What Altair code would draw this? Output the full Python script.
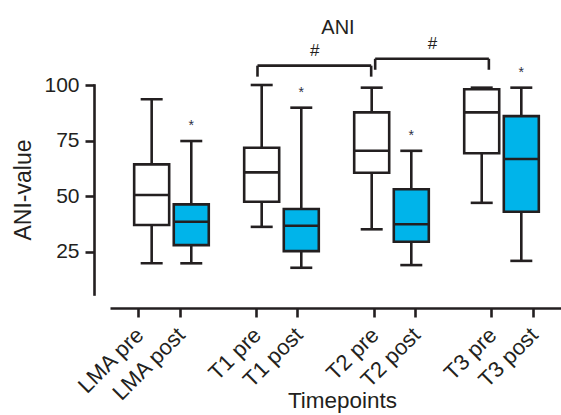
import altair as alt
import pandas as pd

# ---- data -----------------------------------------------------------------
timepoints = ["LMA", "T1", "T2", "T3"]
phases = ["pre", "post"]
box_labels = ["LMA pre", "LMA post", "T1 pre", "T1 post",
              "T2 pre", "T2 post", "T3 pre", "T3 post"]

whisker_low = [19.8, 19.8, 36.2, 17.8, 35.1, 19.0, 47.0, 20.9]
quartile_1 = [37.0, 28.0, 47.5, 25.3, 60.5, 29.5, 69.3, 43.0]
medians = [50.5, 38.5, 60.7, 36.7, 70.4, 37.4, 87.7, 66.7]
quartile_3 = [64.3, 46.3, 71.8, 44.2, 87.7, 53.1, 98.1, 86.0]
whisker_high = [93.6, 74.8, 100.0, 89.8, 98.8, 70.4, 98.8, 98.8]
post_marker = ["", "*", "", "*", "", "*", "", "*"]

# between-timepoint comparisons (#)
bracket_from = ["T1 pre", "T2 pre"]
bracket_to = ["T2 pre", "T3 pre"]
bracket_level = [108.7, 111.8]
bracket_symbol = ["#", "#"]

# ---- layout helpers ---------------------------------------------------------
BOX_GROUP_GAP = 2.778    # distance between timepoints, in pre->post units
AXIS_GROUP_GAP = 2.836
INK = "#231F20"
CYAN = "#00B4EA"
FONT = "Liberation Sans"
LW = 2.6

rows = []
for i, lab in enumerate(box_labels):
    g, p = divmod(i, 2)
    rows.append(dict(label=lab, timepoint=timepoints[g], phase=phases[p],
                     box_x=g * BOX_GROUP_GAP + p,
                     axis_x=round(g * AXIS_GROUP_GAP + p, 3),
                     lo=whisker_low[i], q1=quartile_1[i], med=medians[i],
                     q3=quartile_3[i], hi=whisker_high[i],
                     marker=post_marker[i]))
box_df = pd.DataFrame(rows)
axis_pos = dict(zip(box_df["label"], box_df["axis_x"]))

br = pd.DataFrame(dict(x0=[axis_pos[a] for a in bracket_from],
                       x1=[axis_pos[b] for b in bracket_to],
                       level=bracket_level, symbol=bracket_symbol))
br["xm"] = (br["x0"] + br["x1"]) / 2

box_scale = alt.Scale(domain=[-0.926, 10.21], nice=False, zero=False)
axis_scale = alt.Scale(domain=[-0.682, 10.186], nice=False, zero=False)
y_scale = alt.Scale(domain=[6, 100], nice=False, zero=False)

y_axis = alt.Axis(values=[25, 50, 75, 100], grid=False, offset=16,
                  tickSize=9, tickWidth=LW, tickColor=INK,
                  domainWidth=LW, domainColor=INK, domainCap="square",
                  labelFont=FONT, labelFontSize=21, labelColor=INK,
                  labelPadding=6, titleFont=FONT, titleFontSize=23,
                  titleFontWeight="normal", titleColor=INK, titlePadding=8)


def y_enc(field):
    return alt.Y(field, type="quantitative", scale=y_scale, axis=y_axis,
                 title="ANI-value")


label_expr = "[{}][indexof([{}], datum.value)]".format(
    ", ".join("'%s'" % s for s in box_df["label"]),
    ", ".join(str(v) for v in box_df["axis_x"]))

x_axis = alt.Axis(values=list(box_df["axis_x"]), labelExpr=label_expr,
                  grid=False, offset=14, labelAngle=-45,
                  tickSize=9, tickWidth=LW, tickColor=INK,
                  domainWidth=LW, domainColor=INK,
                  labelFont=FONT, labelFontSize=22, labelColor=INK,
                  labelPadding=7, labelOffset=-6,
                  labelFlush=False, labelOverlap=False,
                  title="Timepoints", titleFont=FONT, titleFontSize=22.5,
                  titleFontWeight="normal", titleColor=INK,
                  titleX=232, titleY=99, titleBaseline="alphabetic")

# ---- box plots ------------------------------------------------------------
base = alt.Chart(box_df).encode(
    x=alt.X("box_x:Q", scale=box_scale, axis=None))

whiskers = base.mark_rule(color=INK, strokeWidth=LW).encode(
    y=y_enc("lo"), y2="hi:Q")
boxes = base.mark_bar(size=35, stroke=INK, strokeWidth=LW).encode(
    y=y_enc("q1"), y2="q3:Q",
    fill=alt.Fill("phase:N", scale=alt.Scale(domain=phases,
                                             range=["white", CYAN]),
                  legend=None))
median_lines = base.mark_tick(orient="horizontal", size=36.5,
                              thickness=LW, color=INK, opacity=1).encode(
    y=y_enc("med"))
caps_low = base.mark_tick(orient="horizontal", size=22, thickness=LW,
                          color=INK, opacity=1).encode(y=y_enc("lo"))
caps_high = base.mark_tick(orient="horizontal", size=22, thickness=LW,
                           color=INK, opacity=1).encode(y=y_enc("hi"))
stars = base.mark_text(font=FONT, fontSize=14, color="#2A2D45",
                       baseline="alphabetic", dy=-11).encode(
    y=y_enc("hi"), text="marker:N")

box_layer = alt.layer(whiskers, boxes, median_lines, caps_low, caps_high,
                      stars)

# ---- category axis and comparison brackets --------------------------------
ticks = alt.Chart(box_df).mark_point(opacity=0).encode(
    x=alt.X("axis_x:Q", scale=axis_scale, axis=x_axis), y=alt.value(0))

bbase = alt.Chart(br)
bracket_top = bbase.mark_rule(color=INK, strokeWidth=LW, xOffset=1.5,
                              x2Offset=-2.5).encode(
    x=alt.X("x0:Q", scale=axis_scale), x2="x1:Q", y=y_enc("level"))
bracket_left = bbase.mark_rule(color=INK, strokeWidth=LW, xOffset=1.5,
                               y2Offset=11).encode(
    x=alt.X("x0:Q", scale=axis_scale), y=y_enc("level"), y2="level:Q")
bracket_right = bbase.mark_rule(color=INK, strokeWidth=LW, xOffset=-2.5,
                                y2Offset=11).encode(
    x=alt.X("x1:Q", scale=axis_scale), y=y_enc("level"), y2="level:Q")
hashes = bbase.mark_text(font=FONT, fontSize=17, color=INK,
                         baseline="alphabetic", dy=-10).encode(
    x=alt.X("xm:Q", scale=axis_scale), y=y_enc("level"), text="symbol:N")

axis_layer = alt.layer(ticks, bracket_top, bracket_left, bracket_right, hashes)

chart = alt.layer(box_layer, axis_layer).resolve_scale(
    x="independent"
).properties(
    width=451, height=209,
    background="white",
    autosize=alt.AutoSizeParams(type="none"),
    padding={"left": 110, "top": 85, "right": 0, "bottom": 121},
    title=alt.TitleParams("ANI", font=FONT, fontSize=20,
                          fontWeight="normal", color=INK, anchor="middle",
                          frame="group", offset=4, dx=2.5, dy=7),
).configure_view(stroke=None)

chart.save("out.html", embed_options={"renderer": "svg", "actions": False})
